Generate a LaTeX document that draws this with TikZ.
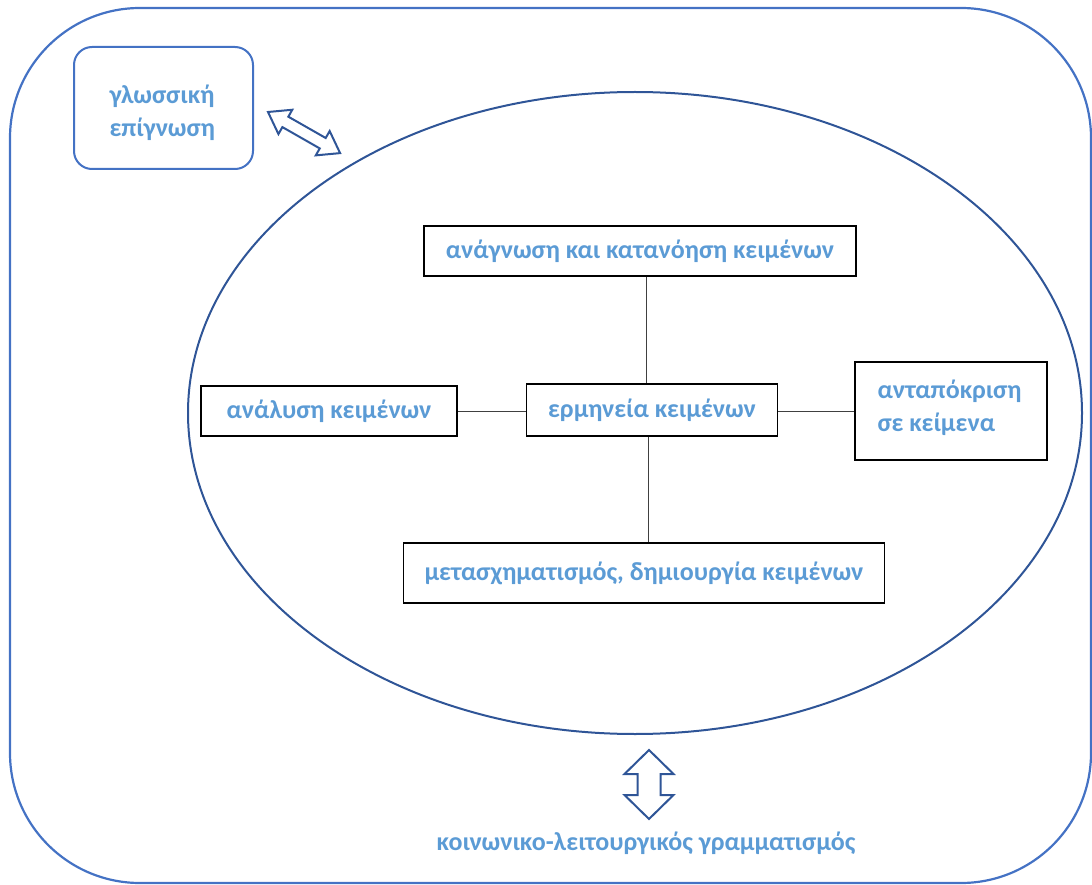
\documentclass[tikz,border=0pt]{standalone}
\usepackage{fontspec}
\setmainfont{Carlito}
\definecolor{txtblue}{HTML}{5B9BD5}
\definecolor{outerblue}{HTML}{4472C4}
\definecolor{darkblue}{HTML}{2F5597}
\definecolor{linegray}{HTML}{404040}
\begin{document}
\begin{tikzpicture}[x=1pt,y=-1pt,
  lbl/.style={font=\fontsize{26}{33}\selectfont\bfseries, text=txtblue},
  tbox/.style={draw=black, line width=1.5pt, inner sep=0pt},
  link/.style={draw=linegray, line width=1pt},
  blockarrow/.style={draw=darkblue, line width=2pt, fill=white, line join=miter}]
\useasboundingbox (0,0) rectangle (1092,885);
% outer rounded frame
\draw[outerblue, line width=2.2pt, rounded corners=130pt] (10,8) rectangle (1091,883);
% inner ellipse
\draw[darkblue, line width=2pt] (635,413) ellipse [x radius=447, y radius=321];
% boxes
\node[tbox, minimum width=432pt, minimum height=50pt] (top) at (640,251) {};
\node[lbl] at (top.center) {ανάγνωση και κατανόηση κειμένων};
\node[tbox, minimum width=251pt, minimum height=52pt] (ctr) at (652,410) {};
\node[lbl] at (ctr.center) {ερμηνεία κειμένων};
\node[tbox, minimum width=256pt, minimum height=50pt] (left) at (329,411) {};
\node[lbl] at (left.center) {ανάλυση κειμένων};
\node[tbox, minimum width=192pt, minimum height=98pt] (right) at (951,411) {};
\node[lbl, anchor=west, align=left] at (874,408) {ανταπόκριση\\σε κείμενα};
\node[tbox, minimum width=481pt, minimum height=60pt] (bot) at (644,573) {};
\node[lbl] at (bot.center) {μετασχηματισμός, δημιουργία κειμένων};
% connectors
\coordinate (vx1) at (646,0);
\coordinate (vx2) at (648,0);
\draw[link] (top.south -| vx1) -- (ctr.north -| vx1);
\draw[link] (ctr.south -| vx2) -- (bot.north -| vx2);
\draw[link] (left.east) -- (ctr.west |- left.east);
\draw[link] (ctr.east |- right.west) -- (right.west);
% glossiki epignosi box
\node[draw=outerblue, line width=2pt, rounded corners=18pt, minimum width=179pt, minimum height=122pt] (gl) at (163.5,108) {};
\node[lbl, anchor=west, align=left] at (106,113) {γλωσσική\\επίγνωση};
% diagonal block arrow
\begin{scope}[shift={(268,112)}, rotate=-29.7]
\draw[blockarrow] (0,0) -- (20,14) -- (20,6) -- (63,6) -- (63,14) -- (83,0) -- (63,-14) -- (63,-6) -- (20,-6) -- (20,-14) -- cycle;
\end{scope}
% vertical block arrow
\begin{scope}[shift={(649,750)}, rotate=-90]
\draw[blockarrow] (0,0) -- (24,24.5) -- (24,11.5) -- (45,11.5) -- (45,24.5) -- (69,0) -- (45,-24.5) -- (45,-11.5) -- (24,-11.5) -- (24,-24.5) -- cycle;
\end{scope}
\node[lbl] (social) at (646,843) {κοινωνικο-λειτουργικός γραμματισμός};
\end{tikzpicture}
\end{document}
